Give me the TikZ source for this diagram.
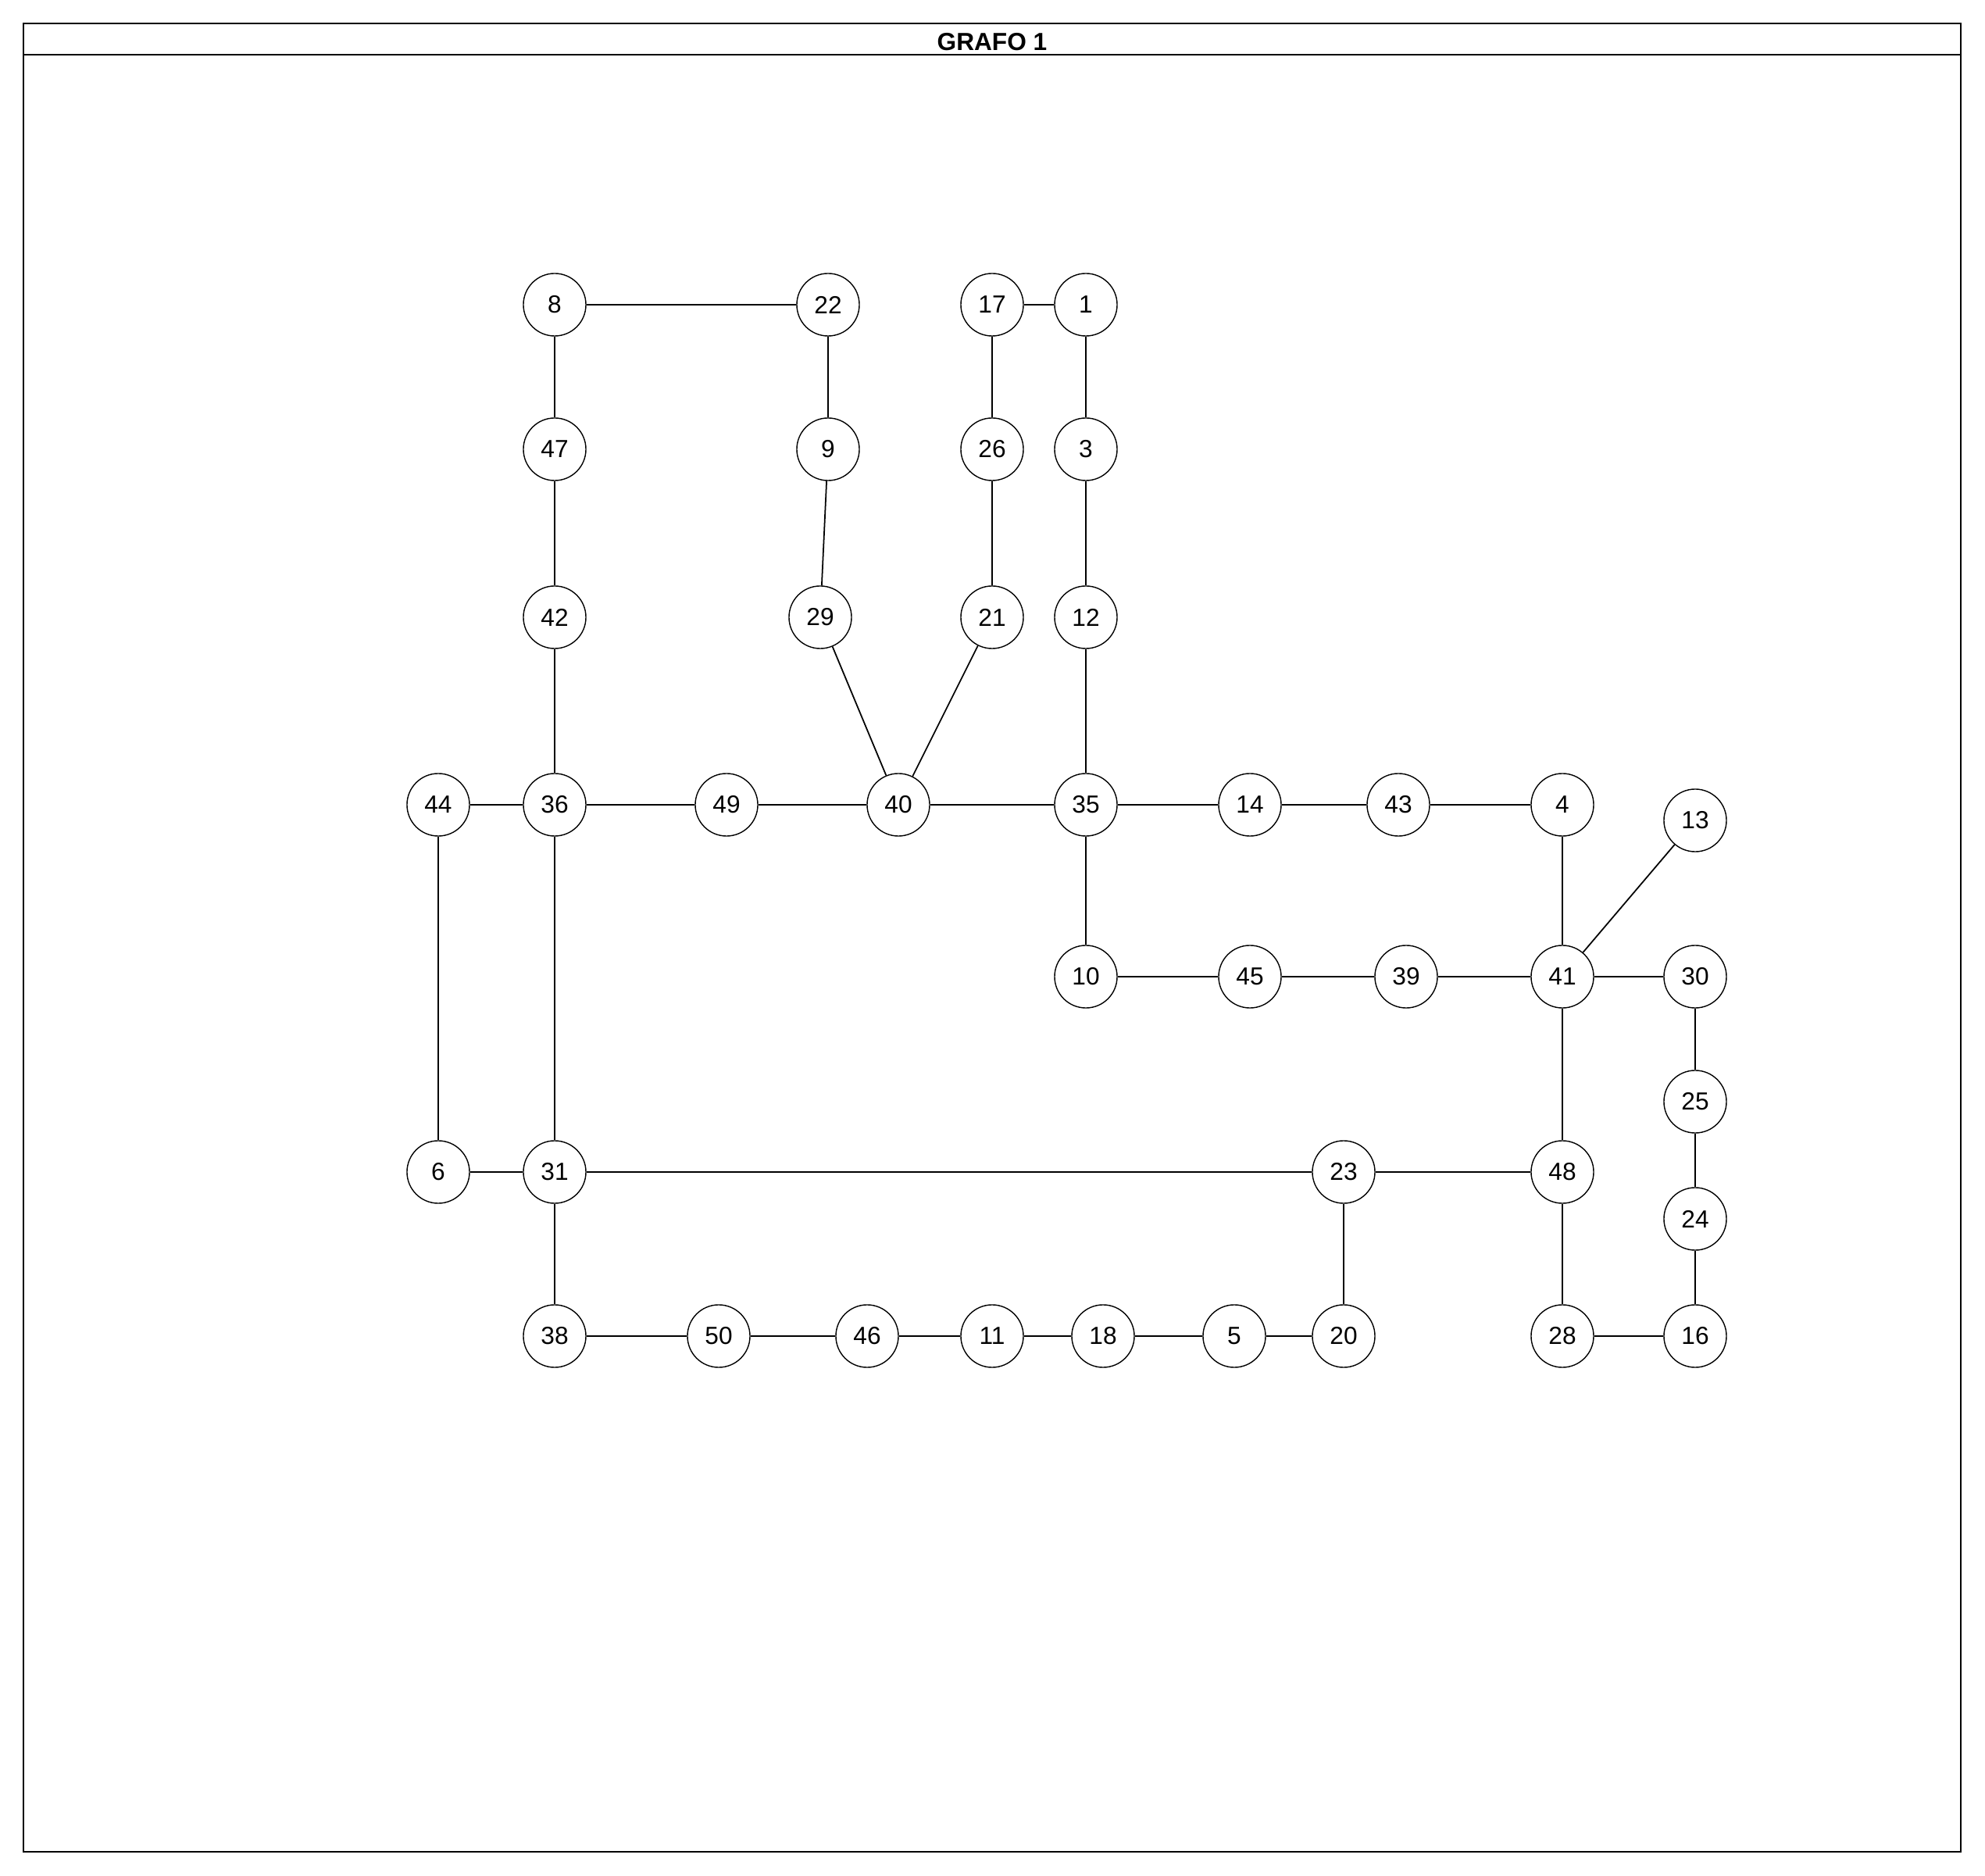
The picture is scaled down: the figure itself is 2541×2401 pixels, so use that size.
\documentclass[tikz,border=0pt]{standalone}
\usepackage{fontspec}
\setmainfont{Liberation Sans}
\usepackage{tikz}

\begin{document}
\begin{tikzpicture}[
  x=0.01cm,y=-0.01cm,
  every node/.style={font=\fontsize{9}{10}\selectfont},
  vertex/.style={draw,circle,line width=0.4pt,minimum size=0.8cm,inner sep=0pt,fill=white},
  edge/.style={line width=0.5pt},
  frame/.style={line width=0.75pt}
]
\useasboundingbox (0,0) rectangle (2541,2401);
\draw[frame] (30,30) rectangle (2510,2370);
\draw[frame] (30,70) -- (2510,70);
\node[font=\fontsize{9}{10}\selectfont\bfseries] (title) at (1270,54) {GRAFO 1};

\node[vertex] (n8) at (710,390) {8};
\node[vertex] (n22) at (1060,390) {22};
\node[vertex] (n17) at (1270,390) {17};
\node[vertex] (n1) at (1390,390) {1};
\node[vertex] (n47) at (710,575) {47};
\node[vertex] (n9) at (1060,575) {9};
\node[vertex] (n26) at (1270,575) {26};
\node[vertex] (n3) at (1390,575) {3};
\node[vertex] (n42) at (710,790) {42};
\node[vertex] (n29) at (1050,790) {29};
\node[vertex] (n21) at (1270,790) {21};
\node[vertex] (n12) at (1390,790) {12};
\node[vertex] (n44) at (561,1030) {44};
\node[vertex] (n36) at (710,1030) {36};
\node[vertex] (n49) at (930,1030) {49};
\node[vertex] (n40) at (1150,1030) {40};
\node[vertex] (n35) at (1390,1030) {35};
\node[vertex] (n14) at (1600,1030) {14};
\node[vertex] (n43) at (1790,1030) {43};
\node[vertex] (n4) at (2000,1030) {4};
\node[vertex] (n13) at (2170,1050) {13};
\node[vertex] (n10) at (1390,1250) {10};
\node[vertex] (n45) at (1600,1250) {45};
\node[vertex] (n39) at (1800,1250) {39};
\node[vertex] (n41) at (2000,1250) {41};
\node[vertex] (n30) at (2170,1250) {30};
\node[vertex] (n25) at (2170,1410) {25};
\node[vertex] (n6) at (561,1500) {6};
\node[vertex] (n31) at (710,1500) {31};
\node[vertex] (n23) at (1720,1500) {23};
\node[vertex] (n48) at (2000,1500) {48};
\node[vertex] (n24) at (2170,1560) {24};
\node[vertex] (n38) at (710,1710) {38};
\node[vertex] (n50) at (920,1710) {50};
\node[vertex] (n46) at (1110,1710) {46};
\node[vertex] (n11) at (1270,1710) {11};
\node[vertex] (n18) at (1412,1710) {18};
\node[vertex] (n5) at (1580,1710) {5};
\node[vertex] (n20) at (1720,1710) {20};
\node[vertex] (n28) at (2000,1710) {28};
\node[vertex] (n16) at (2170,1710) {16};

\draw[edge] (n8)--(n22)--(n9)--(n29)--(n40);
\draw[edge] (n8)--(n47)--(n42)--(n36);
\draw[edge] (n17)--(n1)--(n3)--(n12)--(n35);
\draw[edge] (n17)--(n26)--(n21)--(n40);
\draw[edge] (n44)--(n36)--(n49)--(n40)--(n35)--(n14)--(n43)--(n4)--(n41);
\draw[edge] (n13)--(n41);
\draw[edge] (n35)--(n10)--(n45)--(n39)--(n41)--(n30)--(n25)--(n24)--(n16);
\draw[edge] (n41)--(n48)--(n28)--(n16);
\draw[edge] (n44)--(n6)--(n31)--(n23)--(n48);
\draw[edge] (n36)--(n31)--(n38)--(n50)--(n46)--(n11)--(n18)--(n5)--(n20)--(n23);
\end{tikzpicture}
\end{document}
